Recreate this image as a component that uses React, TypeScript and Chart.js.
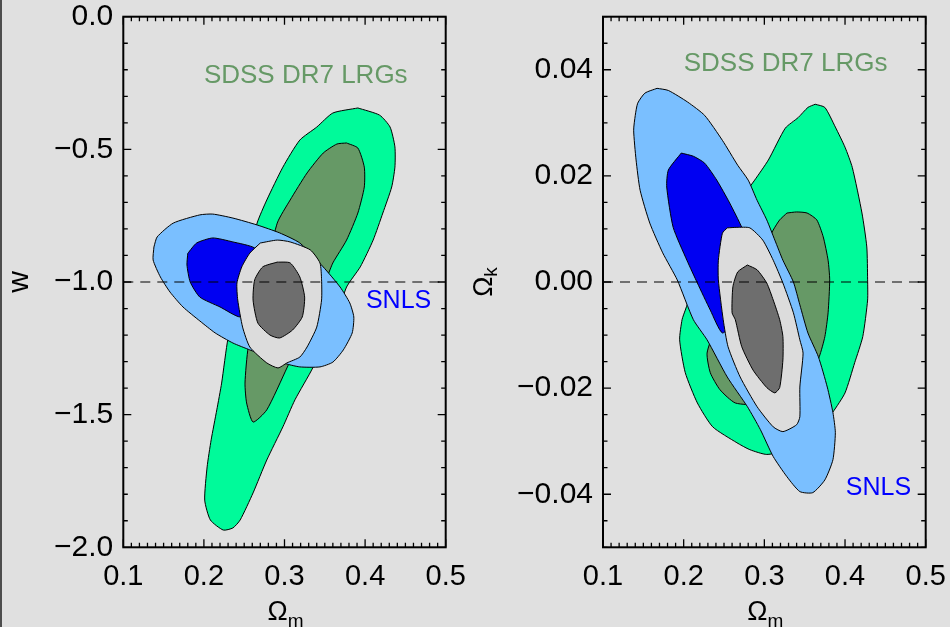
import React, { useEffect, useRef } from "react";
import { Chart, registerables } from "chart.js";

Chart.register(...registerables);

type Pt = [number, number];

// ---------- Left panel: Omega_m vs w ----------
const lrgOuterW: Pt[] = [
  [0.391, -0.344], [0.418, -0.371], [0.431, -0.416], [0.437, -0.491], [0.437, -0.567],
  [0.433, -0.642], [0.422, -0.74], [0.41, -0.842], [0.394, -0.943], [0.377, -1.019],
  [0.363, -1.143], [0.346, -1.237], [0.335, -1.324], [0.313, -1.444], [0.298, -1.546],
  [0.278, -1.671], [0.261, -1.795], [0.245, -1.897], [0.236, -1.927], [0.224, -1.935],
  [0.208, -1.897], [0.201, -1.822], [0.204, -1.697], [0.209, -1.595], [0.216, -1.482],
  [0.222, -1.381], [0.23, -1.211], [0.245, -1.03], [0.266, -0.778], [0.278, -0.691],
  [0.298, -0.567], [0.319, -0.465], [0.34, -0.416], [0.36, -0.363],
];
const lrgInnerW: Pt[] = [
  [0.377, -0.476], [0.391, -0.495], [0.399, -0.567], [0.399, -0.642], [0.391, -0.74],
  [0.377, -0.842], [0.36, -0.928], [0.353, -0.981], [0.325, -1.181], [0.303, -1.324],
  [0.278, -1.482], [0.261, -1.528], [0.253, -1.456], [0.251, -1.381], [0.255, -1.245],
  [0.271, -1.03], [0.291, -0.778], [0.307, -0.691], [0.328, -0.589], [0.348, -0.514],
  [0.365, -0.48],
];
const snlsOuterW: Pt[] = [
  [0.138, -0.868], [0.137, -0.917], [0.146, -0.981], [0.158, -1.038], [0.174, -1.094],
  [0.195, -1.147], [0.214, -1.192], [0.236, -1.23], [0.257, -1.256], [0.298, -1.305],
  [0.319, -1.32], [0.344, -1.32], [0.36, -1.302], [0.373, -1.256], [0.384, -1.192],
  [0.386, -1.132], [0.381, -1.079], [0.369, -1.019], [0.348, -0.943], [0.319, -0.853],
  [0.294, -0.815], [0.266, -0.785], [0.236, -0.759], [0.211, -0.744], [0.195, -0.747],
  [0.162, -0.778], [0.142, -0.83],
];
const snlsInnerW: Pt[] = [
  [0.18, -0.892], [0.191, -0.853], [0.211, -0.834], [0.236, -0.849], [0.263, -0.872],
  [0.275, -0.936], [0.276, -1.03], [0.263, -1.098], [0.245, -1.132], [0.22, -1.094],
  [0.195, -1.057], [0.183, -1.0], [0.179, -0.936],
];
const combOuterW: Pt[] = [
  [0.27, -0.853], [0.291, -0.842], [0.307, -0.849], [0.332, -0.879], [0.344, -0.928],
  [0.346, -0.992], [0.346, -1.068], [0.34, -1.17], [0.328, -1.245], [0.319, -1.283],
  [0.303, -1.305], [0.292, -1.324], [0.278, -1.305], [0.257, -1.245], [0.248, -1.17],
  [0.242, -1.068], [0.241, -1.004], [0.247, -0.943], [0.257, -0.891],
];
const combInnerW: Pt[] = [
  [0.291, -0.925], [0.307, -0.928], [0.319, -0.981], [0.325, -1.057], [0.322, -1.132],
  [0.31, -1.181], [0.294, -1.211], [0.282, -1.2], [0.267, -1.155], [0.261, -1.068],
  [0.263, -0.992], [0.273, -0.943],
];

// ---------- Right panel: Omega_m vs Omega_k ----------
const lrgOuterK: Pt[] = [
  [0.363, 0.0335], [0.375, 0.0329], [0.388, 0.0292], [0.4, 0.0254], [0.409, 0.0216],
  [0.421, 0.013], [0.427, 0.0066], [0.428, 0.0004], [0.428, -0.0034], [0.422, -0.0103],
  [0.412, -0.0152], [0.4, -0.0209], [0.385, -0.0245], [0.363, -0.0288], [0.332, -0.0316],
  [0.303, -0.0325], [0.282, -0.0316], [0.266, -0.0303], [0.236, -0.0273], [0.217, -0.0228],
  [0.202, -0.0171], [0.195, -0.0109], [0.198, -0.0071], [0.202, -0.0053], [0.22, 0.0023],
  [0.251, 0.0107], [0.276, 0.0167], [0.288, 0.0192], [0.305, 0.023], [0.326, 0.029],
  [0.342, 0.031], [0.354, 0.0329],
];
const lrgInnerK: Pt[] = [
  [0.328, 0.013], [0.34, 0.0132], [0.353, 0.013], [0.365, 0.0117], [0.373, 0.0085],
  [0.379, 0.0041], [0.381, 0.0004], [0.379, -0.0058], [0.375, -0.0103], [0.368, -0.0141],
  [0.354, -0.0184], [0.332, -0.0218], [0.295, -0.0231], [0.264, -0.0228], [0.245, -0.0203],
  [0.233, -0.0171], [0.229, -0.0134], [0.239, -0.009], [0.264, -0.0034], [0.288, 0.0032],
  [0.311, 0.0098], [0.319, 0.0117],
];
const snlsOuterK: Pt[] = [
  [0.167, 0.0365], [0.181, 0.0361], [0.205, 0.0339], [0.226, 0.0314], [0.248, 0.0267],
  [0.267, 0.022], [0.28, 0.0192], [0.291, 0.0154], [0.303, 0.0117], [0.313, 0.0079],
  [0.323, 0.0041], [0.336, 0.0], [0.344, -0.0043], [0.354, -0.0096], [0.367, -0.0141],
  [0.378, -0.0198], [0.385, -0.0246], [0.388, -0.0284], [0.385, -0.0335], [0.375, -0.0373],
  [0.36, -0.0397], [0.344, -0.0395], [0.328, -0.0367], [0.311, -0.0329], [0.295, -0.0278],
  [0.279, -0.0235], [0.254, -0.0179], [0.229, -0.0109], [0.212, -0.0071], [0.192, 0.0004],
  [0.174, 0.0055], [0.158, 0.0111], [0.146, 0.0173], [0.141, 0.023], [0.138, 0.0286],
  [0.14, 0.0314], [0.143, 0.0337], [0.152, 0.0356],
];
const snlsInnerK: Pt[] = [
  [0.197, 0.0243], [0.212, 0.0237], [0.226, 0.0224], [0.241, 0.0192], [0.257, 0.0149],
  [0.272, 0.0103], [0.282, 0.006], [0.28, -0.0015], [0.264, -0.0071], [0.248, -0.0096],
  [0.233, -0.0053], [0.217, -0.0002], [0.204, 0.0041], [0.187, 0.0103], [0.179, 0.0179],
  [0.181, 0.0211],
];
const combOuterK: Pt[] = [
  [0.254, 0.0102], [0.266, 0.0103], [0.282, 0.0102], [0.298, 0.0079], [0.311, 0.0041],
  [0.323, -0.0002], [0.336, -0.0058], [0.344, -0.0109], [0.348, -0.0134], [0.344, -0.0198],
  [0.344, -0.0254], [0.34, -0.0269], [0.323, -0.0282], [0.311, -0.0273], [0.291, -0.0235],
  [0.27, -0.0179], [0.255, -0.0122], [0.249, -0.0071], [0.243, 0.0004], [0.243, 0.0041],
  [0.248, 0.0092],
];
const combInnerK: Pt[] = [
  [0.279, 0.0032], [0.291, 0.0023], [0.303, -0.0002], [0.311, -0.0034], [0.319, -0.0071],
  [0.323, -0.0103], [0.323, -0.0147], [0.319, -0.0199], [0.313, -0.0209], [0.303, -0.0199],
  [0.286, -0.0166], [0.272, -0.0122], [0.264, -0.0071], [0.26, -0.0058], [0.261, -0.0009],
  [0.267, 0.0019],
];

// ---------- ticks / reference values ----------
const xTickValues = [0.1, 0.2, 0.3, 0.4, 0.5];
const xTickLabels = ["0.1", "0.2", "0.3", "0.4", "0.5"];
const yTickValuesW = [-2.0, -1.5, -1.0, -0.5, 0.0];
const yTickLabelsW = ["\u22122.0", "\u22121.5", "\u22121.0", "\u22120.5", "0.0"];
const yTickValuesK = [-0.04, -0.02, 0.0, 0.02, 0.04];
const yTickLabelsK = ["\u22120.04", "\u22120.02", "0.00", "0.02", "0.04"];
const refLineW = -1.0;
const refLineK = 0.0;

const FONT = "'Liberation Sans', Arial, Helvetica, sans-serif";
const COLORS = {
  lrg95: "#00fa9a",
  lrg68: "#669966",
  snls95: "#7abfff",
  snls68: "#0000f2",
  comb95: "#dcdcdc",
  comb68: "#6e6e6e",
  snlsText: "#0000ff",
};

interface Panel {
  layers: { pts: Pt[]; color: string }[];
  xRange: [number, number];
  yRange: [number, number];
  yTicks: number[];
  yLabels: string[];
  xMinor: number;
  yMinor: number;
  refY: number;
  lrgAt: Pt;
  snlsAt: Pt;
  yTitle: string;
  yTitleSub: string;
  yTitleSize: number;
  yTitleX: number;
  padLeft: number;
  box: { left: number; right: number; top: number; bottom: number };
}

const leftPanel: Panel = {
  layers: [
    { pts: lrgOuterW, color: COLORS.lrg95 },
    { pts: lrgInnerW, color: COLORS.lrg68 },
    { pts: snlsOuterW, color: COLORS.snls95 },
    { pts: snlsInnerW, color: COLORS.snls68 },
    { pts: combOuterW, color: COLORS.comb95 },
    { pts: combInnerW, color: COLORS.comb68 },
  ],
  xRange: [0.1, 0.5],
  yRange: [-2.0, 0.0],
  yTicks: yTickValuesW,
  yLabels: yTickLabelsW,
  xMinor: 0.01,
  yMinor: 0.1,
  refY: refLineW,
  lrgAt: [0.2, -0.216],
  snlsAt: [0.401, -1.064],
  yTitle: "w",
  yTitleSub: "",
  yTitleSize: 30,
  yTitleX: 28,
  padLeft: 0,
  box: { left: 123.3, right: 445.7, top: 16.7, bottom: 547.3 },
};

const rightPanel: Panel = {
  layers: [
    { pts: lrgOuterK, color: COLORS.lrg95 },
    { pts: lrgInnerK, color: COLORS.lrg68 },
    { pts: snlsOuterK, color: COLORS.snls95 },
    { pts: snlsInnerK, color: COLORS.snls68 },
    { pts: combOuterK, color: COLORS.comb95 },
    { pts: combInnerK, color: COLORS.comb68 },
  ],
  xRange: [0.1, 0.5],
  yRange: [-0.05, 0.05],
  yTicks: yTickValuesK,
  yLabels: yTickLabelsK,
  xMinor: 0.01,
  yMinor: 0.005,
  refY: refLineK,
  lrgAt: [0.2, 0.0416],
  snlsAt: [0.401, -0.0384],
  yTitle: "\u03A9",
  yTitleSub: "k",
  yTitleSize: 27,
  yTitleX: 492,
  padLeft: 475,
  box: { left: 603, right: 925.7, top: 16.7, bottom: 547.3 },
};

const W = 950;
const H = 627;

function decorPlugin(p: Panel) {
  return {
    id: "decor",
    afterDatasetsDraw(chart: any) {
      const { ctx, chartArea: a } = chart;
      const sx = chart.scales.x;
      const sy = chart.scales.y;
      const near = (v: number, arr: number[]) => arr.some((t) => Math.abs(t - v) < 1e-9);
      ctx.save();
      // inward ticks on all four sides
      ctx.strokeStyle = "#000";
      ctx.lineWidth = 1.3;
      ctx.beginPath();
      const MAJ = 8;
      const MIN = 4.5;
      const nx = Math.round((p.xRange[1] - p.xRange[0]) / p.xMinor);
      for (let i = 0; i <= nx; i++) {
        const v = p.xRange[0] + i * p.xMinor;
        const len = near(v, xTickValues) ? MAJ : MIN;
        const px = sx.getPixelForValue(v);
        ctx.moveTo(px, a.bottom);
        ctx.lineTo(px, a.bottom - len);
        ctx.moveTo(px, a.top);
        ctx.lineTo(px, a.top + len);
      }
      const ny = Math.round((p.yRange[1] - p.yRange[0]) / p.yMinor);
      for (let i = 0; i <= ny; i++) {
        const v = p.yRange[0] + i * p.yMinor;
        const len = near(v, p.yTicks) ? MAJ : MIN;
        const py = sy.getPixelForValue(v);
        ctx.moveTo(a.left, py);
        ctx.lineTo(a.left + len, py);
        ctx.moveTo(a.right, py);
        ctx.lineTo(a.right - len, py);
      }
      ctx.stroke();
      // frame
      ctx.lineWidth = 2;
      ctx.strokeRect(a.left, a.top, a.right - a.left, a.bottom - a.top);

      // annotations
      ctx.textAlign = "left";
      ctx.textBaseline = "alphabetic";
      ctx.font = `26px ${FONT}`;
      ctx.fillStyle = COLORS.lrg68;
      ctx.fillText("SDSS DR7 LRGs", sx.getPixelForValue(p.lrgAt[0]), sy.getPixelForValue(p.lrgAt[1]) + 9.3);
      ctx.font = `25px ${FONT}`;
      ctx.fillStyle = COLORS.snlsText;
      ctx.fillText("SNLS", sx.getPixelForValue(p.snlsAt[0]), sy.getPixelForValue(p.snlsAt[1]) + 9);

      // x title: Omega_m
      ctx.fillStyle = "#000";
      const cx = (a.left + a.right) / 2;
      ctx.font = `27px ${FONT}`;
      const wO = ctx.measureText("\u03A9").width;
      ctx.fillText("\u03A9", cx - 17, 620);
      ctx.font = `19px ${FONT}`;
      ctx.fillText("m", cx - 17 + wO, 627);

      // y title
      const cy = (a.top + a.bottom) / 2;
      ctx.save();
      ctx.translate(p.yTitleX, cy);
      ctx.rotate(-Math.PI / 2);
      ctx.font = `${p.yTitleSize}px ${FONT}`;
      const wMain = ctx.measureText(p.yTitle).width;
      ctx.font = `19px ${FONT}`;
      const wSub = p.yTitleSub ? ctx.measureText(p.yTitleSub).width : 0;
      const start = -(wMain + wSub) / 2;
      ctx.font = `${p.yTitleSize}px ${FONT}`;
      ctx.fillText(p.yTitle, start, 0);
      if (p.yTitleSub) {
        ctx.font = `19px ${FONT}`;
        ctx.fillText(p.yTitleSub, start + wMain, 5);
      }
      ctx.restore();
      ctx.restore();
    },
  };
}

function build(canvas: HTMLCanvasElement, p: Panel) {
  const datasets: any[] = p.layers.map((l, i) => ({
    data: [...l.pts, l.pts[0]].map(([x, y]) => ({ x, y })),
    showLine: true,
    fill: "shape",
    tension: 0.2,
    backgroundColor: l.color,
    borderColor: "#000",
    borderWidth: 1,
    borderJoinStyle: "round",
    pointRadius: 0,
    order: 10 - i,
  }));
  datasets.push({
    data: [
      { x: p.xRange[0], y: p.refY },
      { x: p.xRange[1], y: p.refY },
    ],
    showLine: true,
    fill: false,
    borderColor: "#000",
    borderWidth: 1.2,
    borderDash: [10, 7],
    pointRadius: 0,
    order: 0,
  });

  const zeroPad = (s: any) => {
    s.paddingLeft = 0;
    s.paddingRight = 0;
    s.paddingTop = 0;
    s.paddingBottom = 0;
  };

  return new Chart(canvas, {
    type: "scatter",
    data: { datasets },
    options: {
      animation: false,
      responsive: false,
      events: [],
      layout: {
        padding: { left: p.padLeft, right: W - p.box.right, top: p.box.top, bottom: 0 },
      },
      plugins: { legend: { display: false }, tooltip: { enabled: false } },
      scales: {
        x: {
          type: "linear",
          min: p.xRange[0],
          max: p.xRange[1],
          afterBuildTicks: (s: any) => {
            s.ticks = xTickValues.map((v) => ({ value: v }));
          },
          afterFit: (s: any) => {
            s.height = H - p.box.bottom;
            zeroPad(s);
          },
          ticks: {
            callback: (_v: any, i: number) => xTickLabels[i],
            autoSkip: false,
            maxRotation: 0,
            minRotation: 0,
            padding: 12,
            color: "#000",
            font: { family: FONT, size: 29 },
          },
          grid: { display: false, drawTicks: false },
          border: { display: false },
        },
        y: {
          type: "linear",
          min: p.yRange[0],
          max: p.yRange[1],
          afterBuildTicks: (s: any) => {
            s.ticks = p.yTicks.map((v) => ({ value: v }));
          },
          afterFit: (s: any) => {
            s.width = p.box.left - p.padLeft;
            zeroPad(s);
          },
          ticks: {
            callback: (_v: any, i: number) => p.yLabels[i],
            autoSkip: false,
            padding: 10,
            color: "#000",
            font: { family: FONT, size: 30 },
          },
          grid: { display: false, drawTicks: false },
          border: { display: false },
        },
      },
    } as any,
    plugins: [decorPlugin(p)],
  });
}

export default function App() {
  const leftRef = useRef<HTMLCanvasElement>(null);
  const rightRef = useRef<HTMLCanvasElement>(null);

  useEffect(() => {
    const c1 = build(leftRef.current as HTMLCanvasElement, leftPanel);
    const c2 = build(rightRef.current as HTMLCanvasElement, rightPanel);
    return () => {
      c1.destroy();
      c2.destroy();
    };
  }, []);

  const canvasStyle: React.CSSProperties = {
    position: "absolute",
    left: 0,
    top: 0,
    width: W,
    height: H,
  };

  return (
    <div
      style={{
        position: "fixed",
        left: 0,
        top: 0,
        width: W,
        height: H,
        background: "#e0e0e0",
        overflow: "hidden",
      }}
    >
      <div style={{ position: "absolute", left: 0, top: 0, width: 2, height: H, background: "#4d4d4d" }} />
      <canvas ref={leftRef} width={W} height={H} style={canvasStyle} />
      <canvas ref={rightRef} width={W} height={H} style={canvasStyle} />
    </div>
  );
}
